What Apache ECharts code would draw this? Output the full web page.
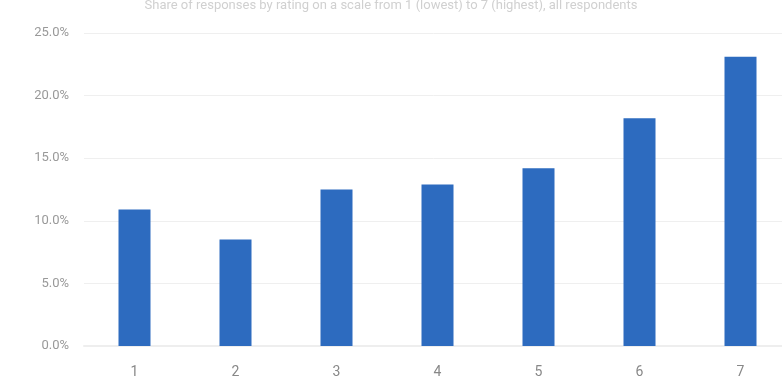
<!DOCTYPE html>
<html>
<head>
<meta charset="utf-8">
<script src="https://cdn.jsdelivr.net/npm/echarts@6/dist/echarts.min.js"></script>
<style>
html,body{margin:0;padding:0;background:#fff;}
#chart{width:782px;height:381px;}
</style>
</head>
<body>
<div id="chart"></div>
<script>
var titleText = 'Share of responses by rating on a scale from 1 (lowest) to 7 (highest), all respondents';
var categories = ['1', '2', '3', '4', '5', '6', '7'];
var values = [10.9, 8.5, 12.5, 12.9, 14.2, 18.2, 23.1];
var yTicks = [0, 5, 10, 15, 20, 25];

var chart = echarts.init(document.getElementById('chart'), null, {renderer: 'canvas'});
chart.setOption({
  animation: false,
  backgroundColor: '#ffffff',
  title: {
    text: titleText,
    left: 'center',
    top: -6,
    textStyle: {fontSize: 13, fontWeight: 'normal', color: '#d0d0d0', fontFamily: 'Roboto, sans-serif'}
  },
  grid: {left: 84, width: 707, top: 33, bottom: 35, containLabel: false, outerBoundsMode: 'none'},
  xAxis: {
    type: 'category',
    data: categories,
    axisLine: {show: true, lineStyle: {color: '#eeeeee', width: 2}},
    axisTick: {show: false},
    axisLabel: {color: '#888888', fontSize: 14, margin: 19, fontFamily: 'Roboto, sans-serif'}
  },
  yAxis: {
    type: 'value',
    min: yTicks[0],
    max: yTicks[yTicks.length - 1],
    interval: 5,
    axisLine: {show: false},
    axisTick: {show: false},
    splitLine: {lineStyle: {color: '#efefef', width: 1}},
    axisLabel: {
      color: '#999999', fontSize: 13, margin: 15, fontFamily: 'Roboto, sans-serif',
      formatter: function (v) { return v.toFixed(1) + '%'; }
    }
  },
  series: [{
    type: 'bar',
    data: values,
    barWidth: 32,
    itemStyle: {color: '#2d6bbf'}
  }]
});
</script>
</body>
</html>
